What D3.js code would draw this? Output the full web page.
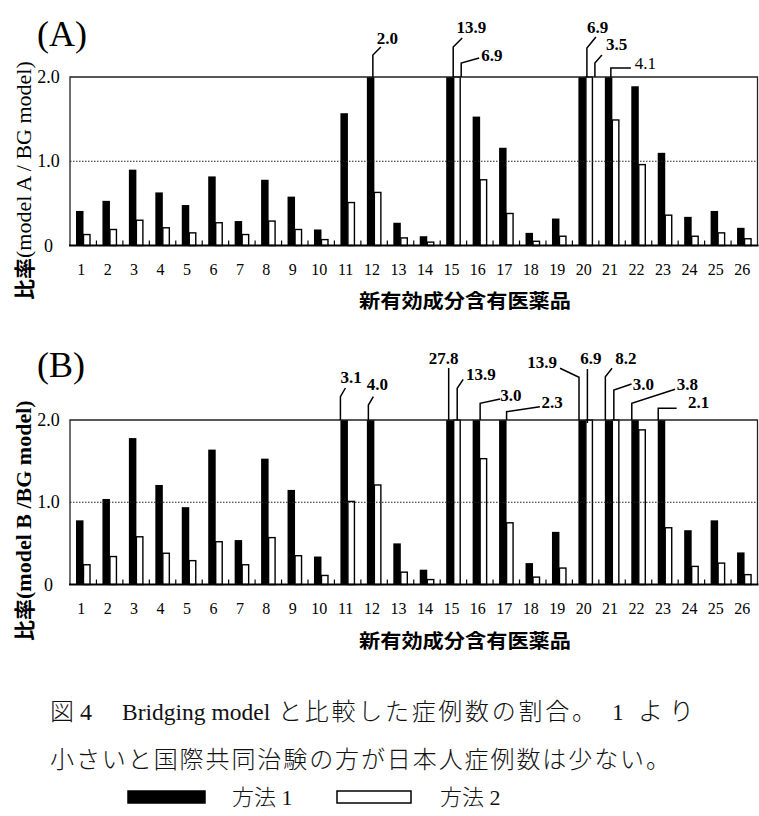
<!DOCTYPE html>
<html><head><meta charset="utf-8">
<script src="https://cdn.jsdelivr.net/npm/d3@7"></script>
<style>body{margin:0;background:#fff}svg{display:block}</style>
</head><body>
<script>
// ---------------- data ----------------
const categories = ["1","2","3","4","5","6","7","8","9","10","11","12","13","14","15","16","17","18","19","20","21","22","23","24","25","26"];
const panelA_method1 = [0.41,0.53,0.90,0.63,0.48,0.82,0.29,0.78,0.58,0.19,1.57,2.0,0.27,0.11,13.9,1.53,1.16,0.15,0.32,6.9,4.1,1.89,1.10,0.34,0.41,0.21];
const panelA_method2 = [0.13,0.19,0.30,0.21,0.15,0.27,0.13,0.29,0.19,0.07,0.51,0.63,0.09,0.04,6.9,0.78,0.38,0.05,0.11,3.5,1.49,0.96,0.36,0.11,0.15,0.08];
const panelB_method1 = [0.78,1.04,1.78,1.21,0.94,1.64,0.54,1.53,1.15,0.34,3.1,4.0,0.50,0.18,27.8,3.0,2.3,0.26,0.64,13.9,8.2,3.8,2.1,0.66,0.78,0.39];
const panelB_method2 = [0.24,0.34,0.58,0.38,0.29,0.52,0.24,0.57,0.35,0.11,1.01,1.21,0.15,0.06,13.9,1.53,0.75,0.09,0.20,6.9,3.0,1.88,0.69,0.22,0.26,0.12];
const yTickValues = [0, 1, 2];
const yTickLabels = ["0", "1.0", "2.0"];
const seriesNames = ["方法 1", "方法 2"];
const panelTitles = ["(A)", "(B)"];
const yTitleModels = ["(model A / BG model)", "(model B /BG model)"];
const yTitlePrefix = "比率";
const xTitle = "新有効成分含有医薬品";
const captionLine1 = ["図 4", "Bridging model", "と比較した症例数の割合。", "1", "より"];
const captionLine2 = "小さいと国際共同治験の方が日本人症例数は少ない。";
// values shown above clipped bars: [panel, category, series]
const labelledBars = [
  ["A","12",0],["A","15",0],["A","15",1],["A","20",0],["A","20",1],["A","21",0],
  ["B","11",0],["B","12",0],["B","15",0],["B","15",1],["B","16",0],["B","17",0],
  ["B","20",0],["B","20",1],["B","21",0],["B","21",1],["B","22",0],["B","23",0]
];

// ---------------- layout / style ----------------
const W = 759, H = 816;
const svg = d3.select("body").append("svg").attr("width", W).attr("height", H);
const serif = "'Liberation Serif','Times New Roman',serif";
const cjk = "'Noto Sans CJK JP','Noto Sans CJK SC',sans-serif";
const mixed = "'Liberation Serif','Noto Sans CJK JP',serif";

const panels = [
  {id:"A", top:77, bottom:245.5, s1:panelA_method1, s2:panelA_method2, titleY:46, tickY:275, xTitleY:308, yTitleStart:300, bold:false},
  {id:"B", top:420, bottom:584.5, s1:panelB_method1, s2:panelB_method2, titleY:377, tickY:614, xTitleY:648, yTitleStart:641, bold:true}
];
const x = d3.scaleBand().domain(categories).range([70, 757.5]).paddingInner(0).paddingOuter(0);
const barW = 7.5, barOff = [6, 13.5];

// leader geometry per labelled bar (same order as labelledBars)
const leaders = [
  {ax:6,  pts:[[0,-22],[8,-30]],      tx:4,   ty:-33, anchor:"start"},
  {ax:7,  pts:[[0,-30],[9,-39]],      tx:3.4, ty:-44, anchor:"start"},
  {ax:7.5,pts:[[0,-14],[18,-19]],     tx:20,  ty:-16, anchor:"start"},
  {ax:8.5,pts:[[0,-29],[9,-40]],      tx:0,   ty:-44, anchor:"start"},
  {ax:9,  pts:[[0,-14],[7,-22]],      tx:11,  ty:-27, anchor:"start"},
  {ax:6,  pts:[[0,-9],[20,-9]],       tx:24,  ty:-8,  anchor:"start", regular:true},
  {ax:0,  pts:[[0,-23.3],[5,-32]],    tx:0,   ty:-37, anchor:"start"},
  {ax:1.5,pts:[[0,-15],[5,-23.3]],    tx:-1.6,ty:-30, anchor:"start"},
  {ax:2.5,pts:[[0,-52]],              tx:-5,  ty:-56, anchor:"middle"},
  {ax:3.5,pts:[[0,-31.7],[6,-40.7]],  tx:8.7, ty:-40, anchor:"start"},
  {ax:7.5,pts:[[0,-16.7],[20,-21]],   tx:20,  ty:-19, anchor:"start"},
  {ax:7.5,pts:[[0,-8.3],[33.3,-13.3]],tx:35,  ty:-12, anchor:"start"},
  {ax:0.6,pts:[[0,-42.7],[-19,-51.7]],tx:-22, ty:-52, anchor:"end"},
  {ax:1.5,pts:[[0,-51]],              tx:3.5, ty:-56, anchor:"middle", below:3},
  {ax:0.5,pts:[[0,-43.3],[6.7,-51.7]],tx:10,  ty:-56, anchor:"start"},
  {ax:1.5,pts:[[0,-30],[17.7,-36]],   tx:19,  ty:-30, anchor:"start"},
  {ax:0.5,pts:[[0,-16.7],[43.3,-30.7]],tx:45, ty:-30, anchor:"start"},
  {ax:0.5,pts:[[0,-11.7],[18.4,-11.7]],tx:29.7,ty:-12,anchor:"start"}
];

panels.forEach((p, pi) => {
  const y = d3.scaleLinear().domain([0, 2]).range([p.bottom, p.top]);
  const g = svg.append("g");
  const rows = categories.map((c, i) => ({c, v1:p.s1[i], v2:p.s2[i]}));

  // bars
  g.selectAll("rect.b1").data(rows).join("rect")
    .attr("x", d => x(d.c) + barOff[0]).attr("width", barW)
    .attr("y", d => y(Math.min(d.v1, 2))).attr("height", d => y(0) - y(Math.min(d.v1, 2)))
    .attr("fill", "#000");
  g.selectAll("rect.b2").data(rows).join("rect")
    .attr("x", d => x(d.c) + barOff[1]).attr("width", barW - 1)
    .attr("y", d => y(Math.min(d.v2, 2))).attr("height", d => y(0) - y(Math.min(d.v2, 2)))
    .attr("fill", "#fff").attr("stroke", "#000").attr("stroke-width", 1.4);

  // dotted 1.0 line
  g.append("line").attr("x1", 70).attr("x2", 757.5).attr("y1", y(1)).attr("y2", y(1))
    .attr("stroke", "#222").attr("stroke-width", 1).attr("stroke-dasharray", "1.5,1.5");
  // frame
  g.append("path").attr("d", `M70,${y(0)}V${y(2)}H757.5V${y(0)}`)
    .attr("fill", "none").attr("stroke", "#222").attr("stroke-width", 1.3);
  g.append("line").attr("x1", 69).attr("x2", 758.5).attr("y1", y(0)).attr("y2", y(0))
    .attr("stroke", "#000").attr("stroke-width", 2.2);
  // boundary ticks
  g.selectAll("line.tk").data(categories.slice(1)).join("line")
    .attr("x1", d => x(d)).attr("x2", d => x(d)).attr("y1", y(0)).attr("y2", y(0) - 5)
    .attr("stroke", "#000").attr("stroke-width", 1.2);

  // y tick labels
  g.selectAll("text.yt").data(yTickValues).join("text")
    .attr("x", 48.5).attr("y", d => y(d) + 6).attr("text-anchor", "middle")
    .attr("font-family", serif).attr("font-size", 18).text((d, i) => yTickLabels[i]);
  // x tick labels
  g.selectAll("text.xt").data(categories).join("text")
    .attr("x", d => x(d) + x.bandwidth() / 2 - 2).attr("y", p.tickY).attr("text-anchor", "middle")
    .attr("font-family", serif).attr("font-size", 16).text(d => d);
  // x title
  g.append("text").attr("x", 465).attr("y", p.xTitleY).attr("text-anchor", "middle")
    .attr("font-family", cjk).attr("font-weight", "bold").attr("font-size", 19)
    .attr("textLength", 212).attr("lengthAdjust", "spacingAndGlyphs").text(xTitle);
  // panel title
  g.append("text").attr("x", 37).attr("y", p.titleY).attr("font-family", serif)
    .attr("font-size", 36).text(panelTitles[pi]);
  // y title
  const yt = g.append("text").attr("transform", `translate(23,${p.yTitleStart}) rotate(-90)`)
    .attr("dominant-baseline", "central");
  yt.append("tspan").attr("font-family", cjk).attr("font-weight", "bold").attr("font-size", 21).text(yTitlePrefix);
  yt.append("tspan").attr("font-family", serif).attr("font-weight", p.bold ? "bold" : "normal")
    .attr("font-size", 22).text(yTitleModels[pi]);

  // value labels with leaders
  labelledBars.forEach((lb, k) => {
    if (lb[0] !== p.id) return;
    const L = leaders[k];
    const ci = categories.indexOf(lb[1]);
    const v = (lb[2] === 0 ? p.s1 : p.s2)[ci];
    const ax = x(lb[1]) + barOff[lb[2]] + L.ax;
    const y0 = y(Math.min(v, 2));
    const pts = [[ax, y0 + (L.below || 0)]].concat(L.pts.map(q => [ax + q[0], p.top + q[1]]));
    g.append("path").attr("d", d3.line()(pts)).attr("fill", "none")
      .attr("stroke", "#000").attr("stroke-width", 1.5);
    g.append("text").attr("x", ax + L.tx).attr("y", p.top + L.ty).attr("text-anchor", L.anchor)
      .attr("font-family", serif).attr("font-weight", L.regular ? "normal" : "bold")
      .attr("font-size", 17).text(d3.format(".1f")(v));
  });
});

// caption line 1: pieces placed along the line
const cap1X = [50, 122, 278, 612, 638], cap1Len = [null, null, 318, null, 56];
const cap1Font = [mixed, serif, cjk, serif, cjk];
const cap1Size = [24, 23.5, 24, 23.5, 25];
captionLine1.forEach((t, i) => {
  const el = svg.append("text").attr("x", cap1X[i]).attr("y", 720).attr("font-family", cap1Font[i])
    .attr("font-weight", 300).attr("font-size", cap1Size[i]).attr("fill", "#111").text(t);
  if (cap1Len[i]) el.attr("textLength", cap1Len[i]).attr("lengthAdjust", "spacing");
});
svg.append("text").attr("x", 50).attr("y", 768).attr("font-family", cjk)
  .attr("font-weight", 300).attr("font-size", 24).attr("fill", "#111")
  .attr("textLength", 620).attr("lengthAdjust", "spacing").text(captionLine2);

// legend
const legend = [{x:128, fill:"#000", tx:232}, {x:337, fill:"#fff", tx:440}];
legend.forEach((l, i) => {
  svg.append("rect").attr("x", l.x).attr("y", 791).attr("width", i ? 74 : 77).attr("height", 12)
    .attr("fill", l.fill).attr("stroke", "#000").attr("stroke-width", 1.5);
  svg.append("text").attr("x", l.tx).attr("y", 805).attr("font-family", mixed)
    .attr("font-weight", 300).attr("font-size", 22).attr("fill", "#111").text(seriesNames[i]);
});
</script>
</body></html>
